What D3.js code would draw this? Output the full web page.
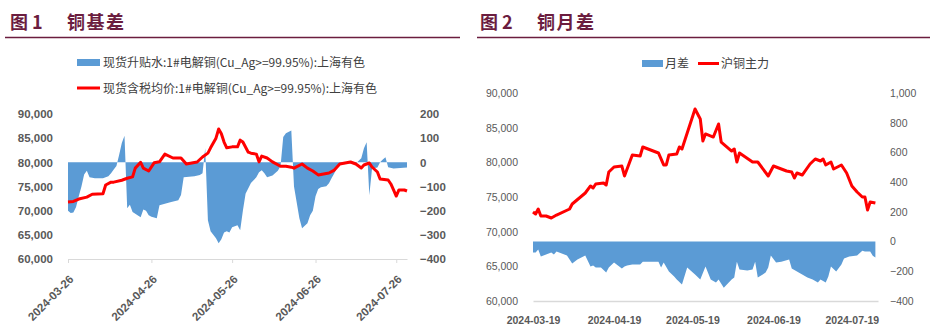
<!DOCTYPE html>
<html><head><meta charset="utf-8">
<script src="https://cdn.jsdelivr.net/npm/d3@7"></script>
<style>
html,body{margin:0;padding:0;background:#fff;}
svg{display:block;}
</style></head>
<body>
<svg id="c" width="939" height="336"></svg>
<script>
// ---------- Chart 1 data: 铜基差 ----------
const c1BasisDates = ["2024-03-26","2024-03-27","2024-03-28","2024-03-29","2024-03-30","2024-03-31","2024-04-01","2024-04-02","2024-04-03","2024-04-05","2024-04-08","2024-04-10","2024-04-11","2024-04-12","2024-04-13","2024-04-14","2024-04-15","2024-04-16","2024-04-17","2024-04-18","2024-04-19","2024-04-21","2024-04-22","2024-04-23","2024-04-24","2024-04-25","2024-04-26","2024-04-28","2024-04-29","2024-05-03","2024-05-06","2024-05-07","2024-05-08","2024-05-12","2024-05-14","2024-05-15","2024-05-16","2024-05-17","2024-05-18","2024-05-20","2024-05-21","2024-05-22","2024-05-23","2024-05-24","2024-05-25","2024-05-26","2024-05-28","2024-05-29","2024-05-30","2024-05-31","2024-06-02","2024-06-04","2024-06-05","2024-06-06","2024-06-07","2024-06-08","2024-06-10","2024-06-12","2024-06-13","2024-06-14","2024-06-15","2024-06-17","2024-06-18","2024-06-20","2024-06-21","2024-06-23","2024-06-24","2024-06-25","2024-06-26","2024-06-27","2024-06-28","2024-06-30","2024-07-01","2024-07-02","2024-07-03","2024-07-04","2024-07-05","2024-07-11","2024-07-13","2024-07-14","2024-07-15","2024-07-16","2024-07-17","2024-07-19","2024-07-20","2024-07-21","2024-07-22","2024-07-23","2024-07-25","2024-07-30"];
const c1Basis = [-200,-210,-208,-185,-140,-100,-50,-35,-62,-66,-66,-58,-45,-30,-15,30,80,110,-190,-175,-205,-220,-227,-195,-200,-219,-225,-231,-178,-165,-157,-135,-62,-58,-52,-45,58,-240,-285,-314,-335,-318,-290,-285,-290,-269,-260,-281,-200,-130,-85,-62,-41,-33,-45,-62,-54,-35,-15,105,120,132,-100,-231,-273,-252,-219,-200,-140,-110,-103,-99,-87,-65,-45,-20,-3,-5,17,58,83,-136,-25,-21,0,12,21,-20,-25,-21];

const c1PriceDates = ["2024-03-26","2024-03-28","2024-03-30","2024-04-02","2024-04-04","2024-04-08","2024-04-09","2024-04-11","2024-04-12","2024-04-15","2024-04-17","2024-04-19","2024-04-20","2024-04-22","2024-04-23","2024-04-25","2024-04-27","2024-04-29","2024-05-01","2024-05-04","2024-05-07","2024-05-09","2024-05-11","2024-05-13","2024-05-15","2024-05-17","2024-05-18","2024-05-20","2024-05-21","2024-05-22","2024-05-23","2024-05-24","2024-05-26","2024-05-28","2024-05-29","2024-05-30","2024-06-01","2024-06-02","2024-06-04","2024-06-05","2024-06-06","2024-06-08","2024-06-10","2024-06-13","2024-06-15","2024-06-17","2024-06-18","2024-06-21","2024-06-23","2024-06-25","2024-06-27","2024-06-29","2024-07-01","2024-07-03","2024-07-05","2024-07-07","2024-07-09","2024-07-11","2024-07-13","2024-07-14","2024-07-16","2024-07-17","2024-07-19","2024-07-20","2024-07-23","2024-07-24","2024-07-25","2024-07-26","2024-07-27","2024-07-29","2024-07-30"];
const c1Price = [71800,71900,72400,72800,73400,73500,75300,75900,75900,76300,76700,77000,78800,80000,78800,78200,79900,80100,81700,80900,80900,79650,79860,80070,81100,81900,83000,85000,86900,85900,84200,83000,83200,83200,84600,84200,82100,81900,81700,80100,81300,80900,80100,79200,79200,79000,78800,79650,78800,78200,77400,77600,77800,78400,79650,79860,80070,79650,78830,79450,79860,79030,78000,76550,76340,75520,74280,73030,74280,74280,74070];

const c1XTicks = ["2024-03-26","2024-04-26","2024-05-26","2024-06-26","2024-07-26"];
const c1LeftTicks = [60000,65000,70000,75000,80000,85000,90000];
const c1RightTicks = [-400,-300,-200,-100,0,100,200];
const c1Legend = ["现货升贴水:1#电解铜(Cu_Ag>=99.95%):上海有色","现货含税均价:1#电解铜(Cu_Ag>=99.95%):上海有色"];

// ---------- Chart 2 data: 铜月差 ----------
const c2PriceDates = ["2024-03-19","2024-03-20","2024-03-21","2024-03-22","2024-03-24","2024-03-26","2024-03-28","2024-04-02","2024-04-03","2024-04-08","2024-04-10","2024-04-11","2024-04-12","2024-04-15","2024-04-16","2024-04-17","2024-04-19","2024-04-22","2024-04-23","2024-04-26","2024-04-29","2024-04-30","2024-05-06","2024-05-08","2024-05-09","2024-05-10","2024-05-13","2024-05-14","2024-05-15","2024-05-20","2024-05-22","2024-05-23","2024-05-24","2024-05-27","2024-05-29","2024-05-30","2024-06-03","2024-06-04","2024-06-05","2024-06-06","2024-06-11","2024-06-13","2024-06-17","2024-06-19","2024-06-24","2024-06-26","2024-06-27","2024-06-28","2024-06-30","2024-07-03","2024-07-05","2024-07-07","2024-07-08","2024-07-09","2024-07-11","2024-07-12","2024-07-15","2024-07-17","2024-07-19","2024-07-21","2024-07-23","2024-07-24","2024-07-25","2024-07-26","2024-07-28"];
const c2Price = [72840,72550,73270,72260,72260,71970,72400,73270,73990,75580,76590,76300,76880,77020,76730,78600,79330,79470,78030,81060,80910,82210,81350,79620,79620,81060,81200,82210,81920,87690,86250,83080,84090,83650,85530,82930,81630,81920,80050,81350,80050,80050,78030,79470,78750,78600,77740,78460,78170,79760,80480,80190,80480,79620,80050,79040,79620,78460,76590,75720,75000,75000,73130,74280,74130];

const c2SpreadDates = ["2024-03-19","2024-03-20","2024-03-21","2024-03-22","2024-03-24","2024-03-26","2024-03-27","2024-03-28","2024-04-01","2024-04-03","2024-04-05","2024-04-08","2024-04-10","2024-04-11","2024-04-12","2024-04-14","2024-04-16","2024-04-17","2024-04-19","2024-04-22","2024-04-23","2024-04-24","2024-04-26","2024-04-29","2024-04-30","2024-05-06","2024-05-07","2024-05-08","2024-05-10","2024-05-12","2024-05-13","2024-05-15","2024-05-17","2024-05-20","2024-05-22","2024-05-24","2024-05-26","2024-05-28","2024-05-29","2024-05-31","2024-06-03","2024-06-04","2024-06-05","2024-06-06","2024-06-09","2024-06-11","2024-06-12","2024-06-13","2024-06-16","2024-06-17","2024-06-18","2024-06-20","2024-06-22","2024-06-25","2024-06-26","2024-06-28","2024-06-30","2024-07-02","2024-07-04","2024-07-06","2024-07-07","2024-07-09","2024-07-10","2024-07-11","2024-07-13","2024-07-15","2024-07-16","2024-07-18","2024-07-21","2024-07-23","2024-07-24","2024-07-26","2024-07-27","2024-07-28"];
const c2Spread = [-74,-74,-54,-101,-87,-74,-87,-67,-94,-148,-121,-94,-168,-161,-175,-175,-209,-175,-141,-182,-168,-161,-155,-155,-135,-135,-175,-141,-202,-235,-256,-289,-175,-222,-256,-168,-256,-276,-256,-310,-256,-242,-135,-188,-195,-188,-135,-242,-209,-175,-94,-141,-135,-121,-182,-202,-222,-242,-256,-276,-256,-276,-235,-168,-202,-155,-114,-101,-94,-61,-67,-67,-95,-108];

const c2XTicks = ["2024-03-19","2024-04-19","2024-05-19","2024-06-19","2024-07-19"];
const c2LeftTicks = [60000,65000,70000,75000,80000,85000,90000];
const c2RightTicks = [-400,-200,0,200,400,600,800,1000];
const c2Legend = ["月差","沪铜主力"];

const titles = [["图 1","铜基差"],["图 2","铜月差"]];

// ---------- Drawing ----------
const parse = d3.utcParse("%Y-%m-%d");
const fmtDate = d3.utcFormat("%Y-%m-%d");
const svg = d3.select("#c");
const BLUE = "#5b9bd5", RED = "#ff0000", MAROON = "#6b1d3f", GREY = "#595959", AXIS = "#d9d9d9";
const CJK = "'Noto Sans CJK SC','Noto Sans',sans-serif";
const LAT = "'Liberation Sans',Arial,sans-serif";

// titles
[[10,67,5,460],[480,537,477,930]].forEach((p,i)=>{
  svg.append("text").attr("x",p[0]).attr("y",29).text(titles[i][0])
    .attr("font-family",CJK).attr("font-weight",700).attr("font-size",18).attr("fill",MAROON);
  svg.append("text").attr("x",p[1]).attr("y",29).text(titles[i][1])
    .attr("font-family",CJK).attr("font-weight",700).attr("font-size",18).attr("letter-spacing",1.5).attr("fill",MAROON);
  svg.append("line").attr("x1",p[2]).attr("x2",p[3]).attr("y1",37.5).attr("y2",37.5)
    .attr("stroke",MAROON).attr("stroke-width",1.3);
});

function styleAxis(g, size, weight){
  g.select(".domain").remove();
  g.selectAll("text").attr("font-family",LAT).attr("font-size",size).attr("font-weight",weight).attr("fill",GREY);
}

// ===== Chart 1 =====
{
  const x = d3.scaleUtc().domain([parse("2024-03-26"), parse("2024-07-30")]).range([68,407]);
  const yL = d3.scaleLinear().domain([60000,90000]).range([259,114]);
  const yR = d3.scaleLinear().domain([-400,200]).range([259,114]);
  const g = svg.append("g");

  const basis = c1BasisDates.map((d,i)=>({d:parse(d), v:c1Basis[i]}));
  const price = c1PriceDates.map((d,i)=>({d:parse(d), v:c1Price[i]}));

  g.append("path").datum(basis).attr("fill",BLUE)
    .attr("d", d3.area().x(p=>x(p.d)).y0(yR(0)).y1(p=>yR(p.v)));
  g.append("path").datum(price).attr("fill","none").attr("stroke",RED).attr("stroke-width",3)
    .attr("stroke-linejoin","round")
    .attr("d", d3.line().x(p=>x(p.d)).y(p=>yL(p.v)));

  const ax = g.append("g").attr("transform","translate(0,259)")
    .call(d3.axisBottom(x).tickValues(c1XTicks.map(parse)).tickFormat(fmtDate).tickSize(4).tickSizeOuter(0));
  ax.select(".domain").attr("stroke",AXIS);
  ax.selectAll(".tick line").attr("stroke",AXIS);
  ax.selectAll("text").attr("font-family",LAT).attr("font-size",11.5).attr("font-weight","bold").attr("fill",GREY)
    .attr("x",0).attr("y",0).attr("dy","0.35em").attr("text-anchor","end")
    .attr("transform","translate(3,18) rotate(-45)");

  const al = g.append("g").attr("transform","translate(56,0)")
    .call(d3.axisLeft(yL).tickValues(c1LeftTicks).tickFormat(d3.format(",")).tickSize(0).tickPadding(3));
  styleAxis(al, 11.5, "bold");
  const ar = g.append("g").attr("transform","translate(417,0)")
    .call(d3.axisRight(yR).tickValues(c1RightTicks).tickFormat(d3.format("d")).tickSize(0).tickPadding(3));
  styleAxis(ar, 11.5, "bold");

  // legend
  g.append("rect").attr("x",77).attr("y",59).attr("width",23).attr("height",7).attr("fill",BLUE);
  g.append("line").attr("x1",77).attr("x2",100).attr("y1",88).attr("y2",88).attr("stroke",RED).attr("stroke-width",3);
  [62.5,88.5].forEach((yy,i)=>{
    g.append("text").attr("x",103).attr("y",yy).attr("dy","0.35em").text(c1Legend[i])
      .attr("font-family",CJK).attr("font-size",12).attr("fill","#404040");
  });
}

// ===== Chart 2 =====
{
  const x = d3.scaleUtc().domain([parse("2024-03-19"), parse("2024-07-29")]).range([533,878]);
  const yL = d3.scaleLinear().domain([60000,90000]).range([301,93]);
  const yR = d3.scaleLinear().domain([-400,1000]).range([301,93]);
  const g = svg.append("g");

  const spread = c2SpreadDates.map((d,i)=>({d:parse(d), v:c2Spread[i]}));
  const price = c2PriceDates.map((d,i)=>({d:parse(d), v:c2Price[i]}));

  g.append("path").datum(spread).attr("fill",BLUE)
    .attr("d", d3.area().x(p=>x(p.d)).y0(yR(0)).y1(p=>yR(p.v)));
  g.append("path").datum(price).attr("fill","none").attr("stroke",RED).attr("stroke-width",3)
    .attr("stroke-linejoin","round")
    .attr("d", d3.line().x(p=>x(p.d)).y(p=>yL(p.v)));

  const ax = g.append("g").attr("transform","translate(0,301)")
    .call(d3.axisBottom(x).tickValues(c2XTicks.map(parse)).tickFormat(fmtDate).tickSize(0).tickSizeOuter(0).tickPadding(16));
  ax.select(".domain").attr("stroke",AXIS).attr("stroke-width",1.5);
  ax.selectAll("text").attr("font-family",LAT).attr("font-size",10.5).attr("font-weight","bold").attr("fill",GREY);

  const al = g.append("g").attr("transform","translate(521,0)")
    .call(d3.axisLeft(yL).tickValues(c2LeftTicks).tickFormat(d3.format(",")).tickSize(0).tickPadding(3));
  styleAxis(al, 10.5, "normal");
  const ar = g.append("g").attr("transform","translate(887,0)")
    .call(d3.axisRight(yR).tickValues(c2RightTicks).tickFormat(d3.format(",")).tickSize(0).tickPadding(3));
  styleAxis(ar, 10.5, "normal");

  // legend
  g.append("rect").attr("x",642).attr("y",60).attr("width",21).attr("height",7).attr("fill",BLUE);
  g.append("text").attr("x",665).attr("y",63.5).attr("dy","0.35em").text(c2Legend[0])
    .attr("font-family",CJK).attr("font-size",12).attr("fill","#404040");
  g.append("line").attr("x1",698).attr("x2",719).attr("y1",63.5).attr("y2",63.5).attr("stroke",RED).attr("stroke-width",3);
  g.append("text").attr("x",721).attr("y",63.5).attr("dy","0.35em").text(c2Legend[1])
    .attr("font-family",CJK).attr("font-size",12).attr("fill","#404040");
}
</script>
</body></html>
